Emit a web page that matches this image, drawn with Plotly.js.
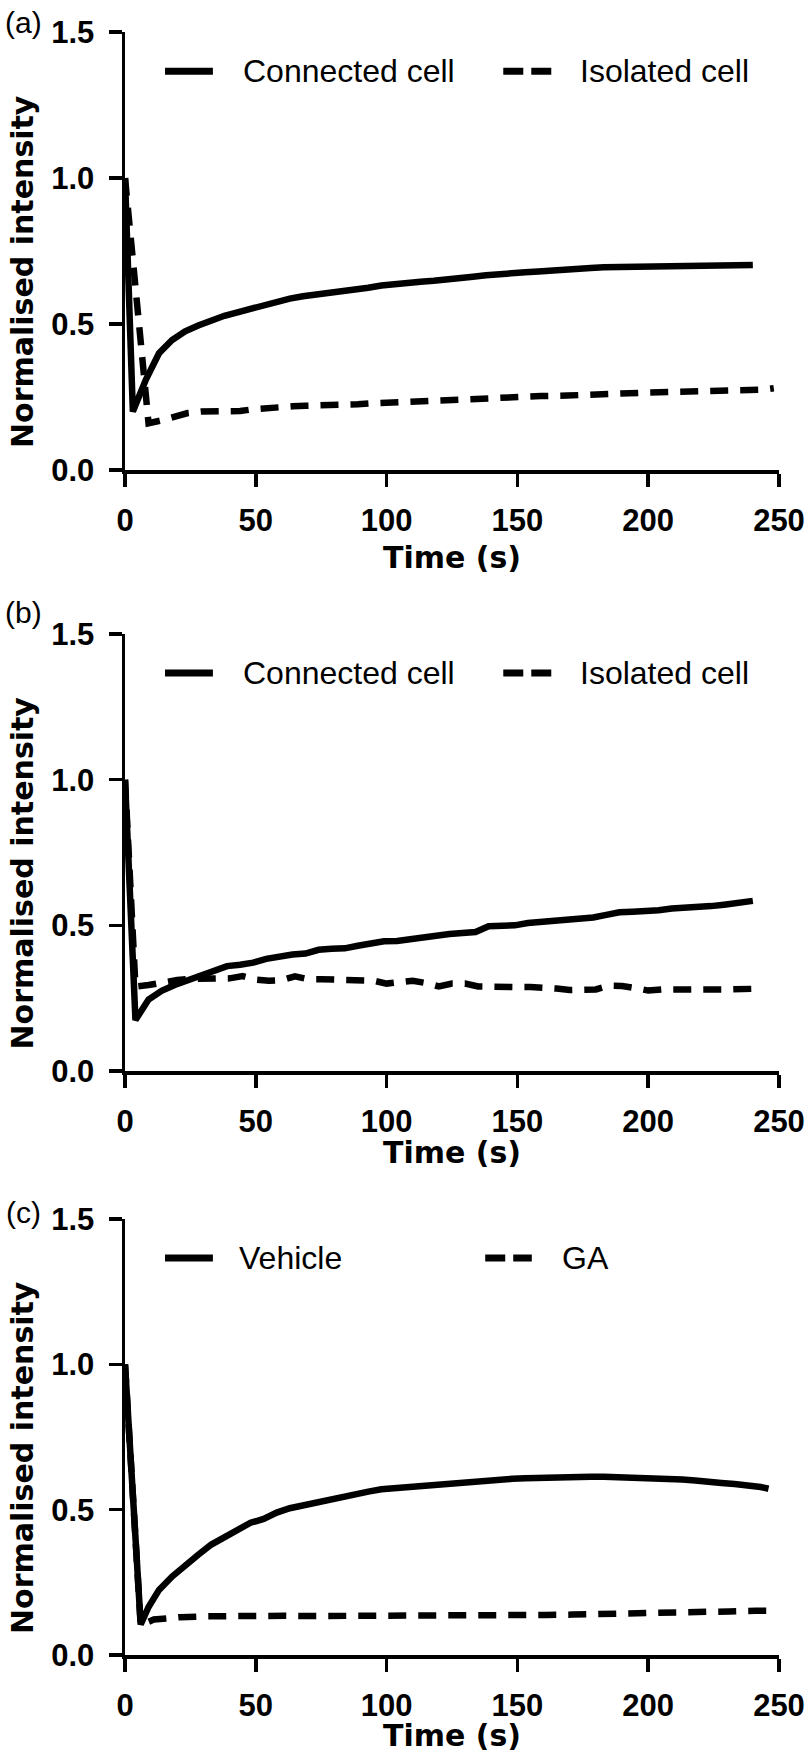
<!DOCTYPE html>
<html>
<head>
<meta charset="utf-8">
<script src="https://cdn.plot.ly/plotly-3.0.1.min.js"></script>
<style>
  html, body { margin: 0; padding: 0; background: #fff; }
  #graph { width: 808px; height: 1756px; }
</style>
</head>
<body>
<div id="graph"></div>
<script>
// panel (a)
const tConnA = [0, 3, 8, 13, 18, 23, 28, 33, 38, 43, 48, 53, 58, 63, 68, 73, 78, 83, 88, 93, 98, 103, 108, 113, 118, 123, 128, 133, 138, 143, 148, 153, 158, 163, 168, 173, 178, 183, 188, 193, 198, 203, 208, 213, 218, 223, 228, 233, 238, 240];
const yConnA = [1.0, 0.20, 0.31, 0.40, 0.445, 0.475, 0.495, 0.512, 0.528, 0.54, 0.553, 0.565, 0.575, 0.587, 0.595, 0.60, 0.607, 0.612, 0.617, 0.624, 0.632, 0.638, 0.642, 0.645, 0.648, 0.651, 0.655, 0.662, 0.667, 0.672, 0.675, 0.677, 0.680, 0.684, 0.688, 0.690, 0.692, 0.694, 0.695, 0.696, 0.698, 0.699, 0.700, 0.702, 0.701, 0.703, 0.704, 0.703, 0.703, 0.702];
const tIsoA = [0, 5, 9, 14, 19, 24, 29, 34, 39, 44, 49, 54, 59, 64, 69, 74, 79, 84, 89, 94, 99, 109, 119, 129, 139, 149, 159, 169, 179, 189, 199, 209, 219, 229, 239, 244, 248];
const yIsoA = [1.0, 0.55, 0.16, 0.17, 0.185, 0.195, 0.20, 0.20, 0.20, 0.202, 0.208, 0.213, 0.216, 0.218, 0.22, 0.22, 0.22, 0.221, 0.225, 0.228, 0.23, 0.234, 0.238, 0.243, 0.25, 0.252, 0.253, 0.255, 0.26, 0.262, 0.265, 0.267, 0.268, 0.272, 0.274, 0.275, 0.28];

// panel (b)
const tConnB = [0, 4, 9, 14, 19, 24, 29, 34, 39, 44, 49, 54, 59, 64, 69, 74, 79, 84, 89, 94, 99, 104, 109, 114, 119, 124, 129, 134, 139, 144, 149, 154, 159, 164, 169, 174, 179, 184, 189, 194, 199, 204, 209, 214, 219, 224, 229, 234, 240];
const yConnB = [1.0, 0.175, 0.245, 0.275, 0.295, 0.31, 0.33, 0.345, 0.36, 0.365, 0.372, 0.385, 0.395, 0.40, 0.403, 0.416, 0.42, 0.421, 0.43, 0.44, 0.445, 0.446, 0.453, 0.458, 0.464, 0.47, 0.474, 0.477, 0.497, 0.496, 0.50, 0.508, 0.512, 0.513, 0.517, 0.524, 0.527, 0.536, 0.545, 0.547, 0.548, 0.552, 0.558, 0.559, 0.562, 0.566, 0.571, 0.576, 0.584];
const tIsoB = [0, 4, 9, 15, 20, 25, 30, 35, 40, 45, 50, 55, 60, 65, 70, 75, 80, 85, 90, 95, 100, 105, 110, 115, 120, 125, 130, 135, 140, 145, 150, 155, 160, 165, 170, 175, 180, 185, 190, 195, 200, 205, 210, 215, 220, 225, 230, 240];
const yIsoB = [1.0, 0.29, 0.295, 0.305, 0.312, 0.316, 0.318, 0.318, 0.318, 0.326, 0.314, 0.31, 0.312, 0.325, 0.315, 0.315, 0.315, 0.315, 0.315, 0.31, 0.30, 0.303, 0.31, 0.302, 0.29, 0.30, 0.30, 0.29, 0.288, 0.288, 0.288, 0.288, 0.288, 0.283, 0.278, 0.278, 0.28, 0.293, 0.292, 0.285, 0.276, 0.28, 0.28, 0.275, 0.278, 0.28, 0.28, 0.282];

// panel (c)
const tVeh = [0, 6, 9, 13, 18, 23, 28, 33, 38, 43, 48, 53, 58, 63, 68, 73, 78, 83, 88, 93, 98, 103, 108, 113, 118, 123, 128, 133, 138, 143, 148, 153, 158, 163, 168, 173, 178, 183, 188, 193, 198, 203, 208, 213, 218, 223, 228, 233, 238, 243, 246];
const yVeh = [1.0, 0.105, 0.165, 0.224, 0.27, 0.31, 0.345, 0.38, 0.405, 0.43, 0.455, 0.468, 0.49, 0.505, 0.515, 0.525, 0.536, 0.546, 0.552, 0.562, 0.57, 0.574, 0.576, 0.582, 0.586, 0.59, 0.595, 0.598, 0.602, 0.604, 0.606, 0.608, 0.61, 0.612, 0.613, 0.612, 0.613, 0.613, 0.612, 0.611, 0.608, 0.608, 0.607, 0.604, 0.600, 0.598, 0.592, 0.588, 0.584, 0.578, 0.572];
const tGA = [0, 6, 11, 16, 21, 31, 41, 51, 61, 71, 81, 91, 101, 111, 121, 131, 141, 151, 161, 171, 181, 191, 201, 211, 221, 231, 241, 246];
const yGA = [1.0, 0.103, 0.122, 0.128, 0.13, 0.133, 0.135, 0.135, 0.135, 0.134, 0.134, 0.133, 0.133, 0.134, 0.135, 0.135, 0.136, 0.137, 0.138, 0.139, 0.14, 0.142, 0.146, 0.148, 0.148, 0.15, 0.152, 0.152];

const xTicks = [0, 50, 100, 150, 200, 250];
const yTicks = [0, 0.5, 1.0, 1.5];
const panelLabels = ['(a)', '(b)', '(c)'];
const legendNames = [['Connected cell', 'Isolated cell'], ['Connected cell', 'Isolated cell'], ['Vehicle', 'GA']];

const W = 808, H = 1756;
// pixel frame of each panel: [top, bottom]
const panels = [[32, 470], [634, 1071], [1219, 1655]];
const xLeft = 125, xRight = 779;

const tickFont = {family: 'Liberation Sans, Arial, sans-serif', size: 31, weight: 700, color: '#000'};
const titleFont = {family: 'DejaVu Sans, Verdana, sans-serif', size: 30, weight: 700, color: '#000'};
const textFont = {family: 'Liberation Sans, Arial, sans-serif', size: 32, color: '#000'};

const solid = {color: '#000', width: 6.5};
const dashed = {color: '#000', width: 6.5, dash: '18px,12px'};

const traces = [
	{x: tConnA, y: yConnA, xaxis: 'x', yaxis: 'y', mode: 'lines', line: solid, name: 'Connected cell'},
	{x: tIsoA, y: yIsoA, xaxis: 'x', yaxis: 'y', mode: 'lines', line: dashed, name: 'Isolated cell'},
	{x: tConnB, y: yConnB, xaxis: 'x2', yaxis: 'y2', mode: 'lines', line: solid, name: 'Connected cell'},
	{x: tIsoB, y: yIsoB, xaxis: 'x2', yaxis: 'y2', mode: 'lines', line: dashed, name: 'Isolated cell'},
	{x: tVeh, y: yVeh, xaxis: 'x3', yaxis: 'y3', mode: 'lines', line: solid, name: 'Vehicle'},
	{x: tGA, y: yGA, xaxis: 'x3', yaxis: 'y3', mode: 'lines', line: dashed, name: 'GA'}
];

function xAxis(anchor) {
	return {
		domain: [xLeft / W, xRight / W], anchor: anchor,
		range: [0, 250], tickvals: xTicks, ticktext: xTicks.map(v => '<b>' + v + '</b>'),
		ticks: 'outside', ticklen: 13, tickwidth: 3.5, tickcolor: '#000',
		showline: true, linewidth: 3.5, linecolor: '#000', showgrid: false, zeroline: false,
		tickfont: tickFont, ticklabelstandoff: 7
	};
}

function yAxis(anchor, p) {
	return {
		domain: [1 - p[1] / H, 1 - p[0] / H], anchor: anchor,
		range: [0, 1.5], tickvals: yTicks, ticktext: yTicks.map(v => '<b>' + v.toFixed(1) + '</b>'),
		ticks: 'outside', ticklen: 13, tickwidth: 3.5, tickcolor: '#000',
		showline: true, linewidth: 3.5, linecolor: '#000', showgrid: false, zeroline: false,
		tickfont: tickFont, ticklabelstandoff: 8
	};
}

const annotations = [];
const shapes = [];
const legY = 1.366;
// legend positions (in axis units) per panel
const legPos = [
	{s: [15.3, 33.6], t1: 44.3, d: [144.6, 163.4], t2: 173.2},
	{s: [15.3, 33.6], t1: 44.3, d: [144.6, 163.4], t2: 173.2},
	{s: [15.3, 33.6], t1: 43.0, d: [137.7, 155.5], t2: 166.4}
];
const xTitleY = [558, 1152, 1735];
const labelY = [22, 612, 1212];

panels.forEach((p, i) => {
	const sfx = i === 0 ? '' : String(i + 1);
	const lp = legPos[i];
	shapes.push({type: 'line', xref: 'x' + sfx, yref: 'y' + sfx, x0: lp.s[0], x1: lp.s[1], y0: legY, y1: legY, line: {color: '#000', width: 7}});
	shapes.push({type: 'line', xref: 'x' + sfx, yref: 'y' + sfx, x0: lp.d[0], x1: lp.d[1], y0: legY, y1: legY, line: {color: '#000', width: 7, dash: '20px,8px'}});
	annotations.push({xref: 'x' + sfx, yref: 'y' + sfx, x: lp.t1, y: legY, text: legendNames[i][0], showarrow: false, xanchor: 'left', yanchor: 'middle', font: textFont});
	annotations.push({xref: 'x' + sfx, yref: 'y' + sfx, x: lp.t2, y: legY, text: legendNames[i][1], showarrow: false, xanchor: 'left', yanchor: 'middle', font: textFont});
	// y title
	annotations.push({xref: 'paper', yref: 'paper', x: 22 / W, y: 1 - ((p[0] + p[1]) / 2 + 21) / H, text: 'Normalised intensity', textangle: -90, showarrow: false, xanchor: 'center', yanchor: 'middle', font: titleFont});
	// x title
	annotations.push({xref: 'paper', yref: 'paper', x: (xLeft + xRight) / 2 / W, y: 1 - xTitleY[i] / H, text: 'Time (s)', showarrow: false, xanchor: 'center', yanchor: 'middle', font: titleFont});
	// panel letter
	annotations.push({xref: 'paper', yref: 'paper', x: 23 / W, y: 1 - labelY[i] / H, text: panelLabels[i], showarrow: false, xanchor: 'center', yanchor: 'middle', font: {family: 'Liberation Sans, Arial, sans-serif', size: 30, color: '#000'}});
});

const layout = {
	width: W, height: H,
	margin: {l: 0, r: 0, t: 0, b: 0},
	paper_bgcolor: '#fff', plot_bgcolor: '#fff',
	showlegend: false,
	xaxis: xAxis('y'), yaxis: yAxis('x', panels[0]),
	xaxis2: xAxis('y2'), yaxis2: yAxis('x2', panels[1]),
	xaxis3: xAxis('y3'), yaxis3: yAxis('x3', panels[2]),
	shapes: shapes,
	annotations: annotations
};

Plotly.newPlot('graph', traces, layout, {staticPlot: true});
</script>
</body>
</html>
